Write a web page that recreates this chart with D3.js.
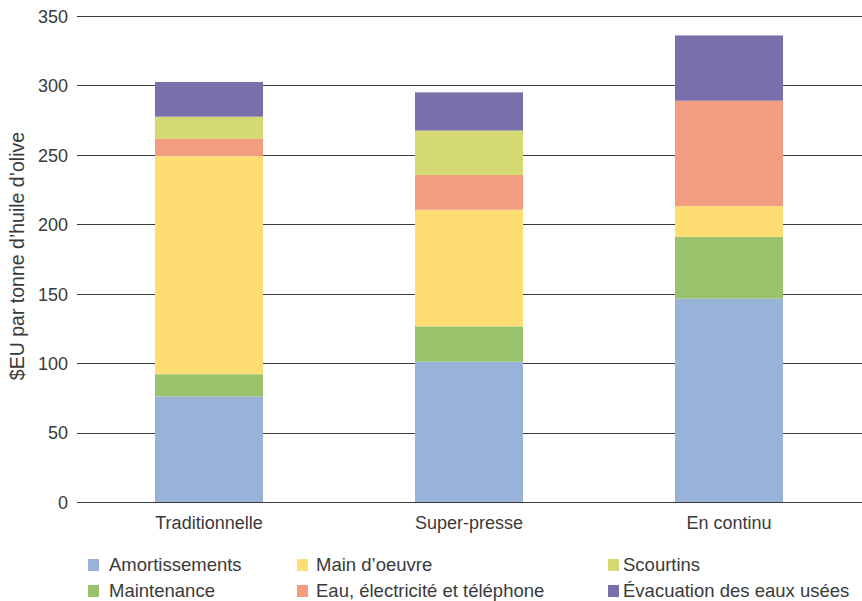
<!DOCTYPE html>
<html>
<head>
<meta charset="utf-8">
<script src="https://cdn.jsdelivr.net/npm/d3@7"></script>
<style>
  html, body { margin: 0; padding: 0; background: #fff; }
  svg text { font-family: "Liberation Sans", Arial, sans-serif; fill: #3a3a3a; }
</style>
</head>
<body>
<svg id="chart" width="862" height="601"></svg>
<script>
const categories = ["Traditionnelle", "Super-presse", "En continu"];
const seriesNames = ["Amortissements", "Maintenance", "Main d\u2019oeuvre", "Eau, \u00e9lectricit\u00e9 et t\u00e9l\u00e9phone", "Scourtins", "\u00c9vacuation des eaux us\u00e9es"];
const amortissements = [76, 101, 146.5];
const maintenance = [16, 25.5, 44.5];
const mainOeuvre = [157, 84, 22];
const eau = [12.5, 25, 76];
const scourtins = [16, 32, 0];
const evacuation = [25, 27.5, 47];
const colors = ["#99b3d8", "#9ac16c", "#fedd73", "#f29c80", "#d4d971", "#7a6fab"];
const yTicks = [0, 50, 100, 150, 200, 250, 300, 350];
const yTitle = "$EU par tonne d\u2019huile d\u2019olive";

const seriesValues = [amortissements, maintenance, mainOeuvre, eau, scourtins, evacuation];
const table = categories.map((c, i) => {
  const row = { cat: c };
  seriesNames.forEach((s, j) => row[s] = seriesValues[j][i]);
  return row;
});

const svg = d3.select("#chart");
const x = d3.scaleBand().domain(categories).range([79, 859]).paddingInner(0.5846).paddingOuter(0.2923);
const y = d3.scaleLinear().domain([0, 350]).range([502, 16]);

// gridlines
const grid = svg.append("g");
grid.selectAll("line").data(yTicks).join("line")
  .attr("x1", 77).attr("x2", 862)
  .attr("y1", d => Math.round(y(d)) + 0.5).attr("y2", d => Math.round(y(d)) + 0.5)
  .attr("stroke", "#3c3c3c").attr("stroke-width", 1.2);

// y tick labels
const yAxis = d3.axisLeft(y).tickValues(yTicks).tickSize(0).tickPadding(0);
const ya = svg.append("g").attr("transform", "translate(68,0)").call(yAxis);
ya.select(".domain").remove();
ya.selectAll("text").attr("font-size", 18).attr("font-family", "Liberation Sans, Arial, sans-serif").attr("fill", "#3a3a3a").attr("dy", "0.35em");

// stacked bars
const stack = d3.stack().keys(seriesNames);
const stacked = stack(table);
svg.append("g").selectAll("g").data(stacked).join("g")
  .attr("fill", (d, i) => colors[i])
  .selectAll("rect").data(d => d).join("rect")
  .attr("x", d => x(d.data.cat))
  .attr("width", x.bandwidth())
  .attr("y", d => y(d[1]))
  .attr("height", d => y(d[0]) - y(d[1]));

// x labels
const xAxis = d3.axisBottom(x).tickSize(0).tickPadding(0);
const xa = svg.append("g").attr("transform", "translate(0,515)").call(xAxis);
xa.select(".domain").remove();
xa.selectAll("text").attr("font-size", 18).attr("font-family", "Liberation Sans, Arial, sans-serif").attr("fill", "#3a3a3a").attr("dy", "0.78em");

// y title
svg.append("text")
  .attr("transform", "translate(24,256) rotate(-90)")
  .attr("text-anchor", "middle")
  .attr("font-size", 19.5)
  .text(yTitle);

// legend
const legendOrder = [0, 2, 4, 1, 3, 5];
const markX = [88, 297, 608];
const textX = [109, 316, 623];
const rowY = [565, 591];
const lg = svg.append("g");
legendOrder.forEach((si, k) => {
  const col = k % 3, row = Math.floor(k / 3);
  lg.append("rect").attr("x", markX[col]).attr("y", rowY[row] - 6).attr("width", 11).attr("height", 12).attr("fill", colors[si]);
  lg.append("text").attr("x", textX[col]).attr("y", rowY[row]).attr("dy", "0.35em").attr("font-size", 18.5).text(seriesNames[si]);
});
</script>
</body>
</html>
